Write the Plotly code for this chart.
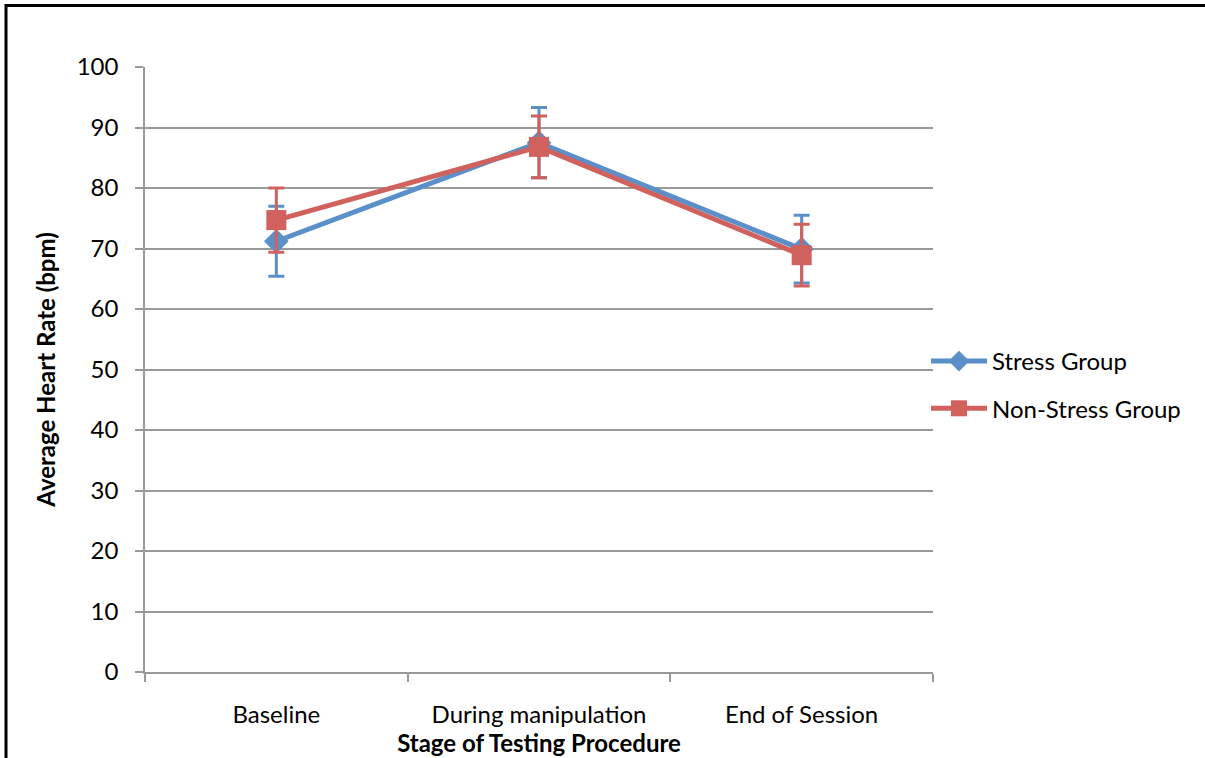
import plotly.graph_objects as go

categories = ["Baseline", "During manipulation", "End of Session"]
stress_mean = [71.2, 87.5, 69.9]
stress_sd = [5.8, 5.8, 5.6]
nonstress_mean = [74.7, 86.8, 68.9]
nonstress_sd = [5.3, 5.1, 5.1]
y_ticks = [0, 10, 20, 30, 40, 50, 60, 70, 80, 90, 100]

BLUE = "#5B8FCA"
RED = "#D0615C"
FONT = "Lato, 'Open Sans', sans-serif"

W, H = 1205, 758
# target plot area in screen pixels: x 145..933, y 67..672
L, T = 145, 67
R, B = W - 933, H - 672
pw, ph = W - L - R, H - T - B


def px_x(p):
    return (p - L) / pw


def px_y(p):
    return (H - B - p) / ph


fig = go.Figure()
fig.add_trace(go.Scatter(
    x=categories, y=stress_mean, name="Stress Group", mode="lines+markers",
    legendgroup="a",
    line=dict(color=BLUE, width=5),
    marker=dict(symbol="diamond", size=19, color=BLUE),
    error_y=dict(type="data", array=stress_sd, color=BLUE, thickness=3, width=8),
))
fig.add_trace(go.Scatter(
    x=categories, y=nonstress_mean, name="Non-Stress Group", mode="lines+markers",
    legendgroup="b",
    line=dict(color=RED, width=5),
    marker=dict(symbol="square", size=20, color=RED),
    error_y=dict(type="data", array=nonstress_sd, color=RED, thickness=3, width=8),
))

fig.add_shape(type="rect", xref="paper", yref="paper",
              x0=px_x(6), x1=px_x(1240), y0=px_y(5.5), y1=px_y(800),
              line=dict(color="black", width=3), fillcolor="rgba(0,0,0,0)")

fig.update_layout(
    width=W, height=H,
    margin=dict(l=L, r=R, t=T, b=B, autoexpand=False),
    paper_bgcolor="white", plot_bgcolor="white",
    font=dict(family=FONT, size=24, color="black"),
    legend=dict(x=px_x(926), y=px_y(339), xanchor="left", yanchor="top",
                font=dict(size=24), tracegroupgap=13, itemwidth=56,
                bgcolor="rgba(0,0,0,0)"),
    xaxis=dict(
        type="category", tickson="boundaries", ticks="outside", ticklen=8,
        tickcolor="#9a9a9a", tickwidth=1.5,
        showline=True, linecolor="#9a9a9a", linewidth=1.5,
        showgrid=False, tickfont=dict(size=24), ticklabelstandoff=20,
        title=dict(text="<b>Stage of Testing Procedure</b>", font=dict(size=24), standoff=1),
        range=[-0.5, 2.5],
    ),
    yaxis=dict(
        range=[0, 100], tickvals=y_ticks, ticks="outside", ticklen=8,
        tickcolor="#9a9a9a", tickwidth=1.5,
        showline=True, linecolor="#9a9a9a", linewidth=1.5,
        showgrid=True, gridcolor="#9a9a9a", gridwidth=1.5,
        zeroline=False, tickfont=dict(size=24), ticklabelstandoff=12,
        title=dict(text="<b>Average Heart Rate (bpm)</b>", font=dict(size=24), standoff=14),
    ),
)

fig.write_html("out.html", config={"displayModeBar": False},
               post_script="document.body.style.margin='0';")
